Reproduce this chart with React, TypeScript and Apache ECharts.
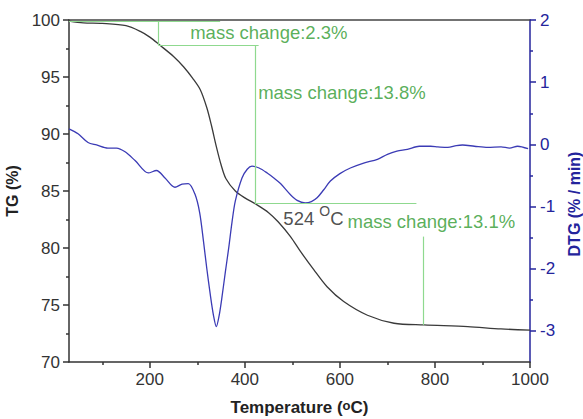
import React, { useEffect, useRef } from "react";
import * as echarts from "echarts";

// TG curve (temperature °C, mass %)
const tgTemp = [30, 60, 100, 150, 180, 200, 221, 250, 271, 290, 306, 320, 330, 340, 350, 360, 380, 400, 425, 450, 470, 496, 517, 545, 573, 608, 658, 714, 777, 869, 939, 1000];
const tgValue = [99.9, 99.75, 99.7, 99.5, 99.0, 98.5, 97.8, 96.8, 95.9, 94.9, 93.9, 92.3, 90.7, 88.9, 87.3, 86.1, 85.0, 84.4, 83.8, 83.1, 82.3, 81.0, 79.7, 78.1, 76.6, 75.3, 74.1, 73.4, 73.25, 73.1, 72.9, 72.8];

// DTG curve (temperature °C, %/min)
const dtgTemp = [30, 49, 70, 88, 112, 130, 148, 169, 197, 214, 232, 253, 268, 281, 295, 305, 313, 320, 327, 334, 340, 346, 352, 359, 366, 373, 380, 394, 405, 415, 430, 447, 461, 475, 496, 510, 527, 540, 552, 566, 580, 600, 622, 650, 679, 700, 720, 742, 767, 791, 806, 827, 845, 858, 883, 911, 939, 957, 974, 996];
const dtgValue = [0.25, 0.17, 0.03, -0.01, -0.06, -0.06, -0.12, -0.26, -0.46, -0.42, -0.54, -0.69, -0.64, -0.63, -0.8, -1.1, -1.56, -2.0, -2.4, -2.75, -2.93, -2.75, -2.45, -2.05, -1.67, -1.25, -0.91, -0.54, -0.4, -0.35, -0.38, -0.46, -0.54, -0.63, -0.81, -0.9, -0.94, -0.92, -0.86, -0.73, -0.59, -0.47, -0.38, -0.3, -0.24, -0.16, -0.11, -0.08, -0.03, -0.03, -0.04, -0.05, -0.02, -0.01, -0.03, -0.05, -0.04, -0.06, -0.03, -0.07];

// Axis ticks
const xMajor = [200, 400, 600, 800, 1000];
const xMinor = [100, 300, 500, 700, 900];
const dtgMajor = [-3, -2, -1, 0, 1, 2];
const dtgMinor = [-2.5, -1.5, -0.5, 0.5, 1.5];

// Annotation guide segments [[x1, tg1], [x2, tg2]]
const guideSegments = [
  [[30, 99.9], [348, 99.9]],
  [[218, 99.9], [218, 97.8]],
  [[218, 97.8], [429, 97.8]],
  [[421, 97.8], [421, 83.9]],
  [[421, 83.9], [761, 83.9]],
  [[776, 81.0], [776, 73.25]],
];

// Annotation texts [x, tg, text]
const annotations: [number, number, string][] = [
  [285, 98.86, "mass change:2.3%"],
  [428, 93.6, "mass change:13.8%"],
  [481, 82.6, "524 {sup|O}C"],
  [616, 82.3, "mass change:13.1%"],
];

const FONT = "'Liberation Sans', Arial, sans-serif";
const BLACK = "#333333";
const BLUE = "#24249c";
const GREEN = "#2f9a2f";

export default function App() {
  const ref = useRef<HTMLDivElement>(null);
  useEffect(() => {
    if (!ref.current) return;
    const chart = echarts.init(ref.current, null, { renderer: "svg" });
    const tgData = tgTemp.map((t, i) => [t, tgValue[i]]);
    const dtgData = dtgTemp.map((t, i) => [t, dtgValue[i]]);
    const option: any = {
      animation: false,
      textStyle: { fontFamily: FONT },
      grid: { left: 69, right: 53, top: 20, bottom: 57, containLabel: false, outerBoundsMode: "none" },
      xAxis: [
        {
          type: "value",
          min: 30,
          max: 1000,
          position: "bottom",
          axisLine: { onZero: false, lineStyle: { color: BLACK, width: 1.5 } },
          axisTick: { customValues: xMajor, length: 6, lineStyle: { color: BLACK, width: 1.5 } },
          axisLabel: {
            customValues: xMajor,
            fontSize: 17,
            color: BLACK,
            margin: 9,
            fontFamily: FONT,
            formatter: (v: number) => String(v),
          },
          splitLine: { show: false },
          name: "Temperature ({sup|o}C)",
          nameLocation: "middle",
          nameGap: 37,
          nameTextStyle: {
            fontSize: 17,
            fontWeight: "bold",
            color: "#222",
            fontFamily: FONT,
            rich: { sup: { fontSize: 13, fontWeight: "bold", color: "#222", verticalAlign: "top", fontFamily: FONT } },
          },
        },
        {
          type: "value",
          min: 30,
          max: 1000,
          position: "bottom",
          axisLine: { show: false, onZero: false },
          axisTick: { customValues: xMinor, length: 3, lineStyle: { color: BLACK, width: 1.5 } },
          axisLabel: { show: false },
          splitLine: { show: false },
        },
        {
          type: "value",
          min: 30,
          max: 1000,
          position: "top",
          axisLine: { onZero: false, lineStyle: { color: "#444", width: 1.5 } },
          axisTick: { show: false },
          axisLabel: { show: false },
          splitLine: { show: false },
        },
      ],
      yAxis: [
        {
          type: "value",
          min: 70,
          max: 100,
          interval: 5,
          position: "left",
          axisLine: { show: true, onZero: false, lineStyle: { color: BLACK, width: 1.5 } },
          axisTick: { show: true, length: 6, lineStyle: { color: BLACK, width: 1.5 } },
          minorTick: { show: true, splitNumber: 2, length: 3, lineStyle: { color: BLACK, width: 1.5 } },
          axisLabel: { fontSize: 17, color: BLACK, margin: 9, fontFamily: FONT },
          splitLine: { show: false },
          name: "TG (%)",
          nameLocation: "middle",
          nameGap: 48,
          nameRotate: 90,
          nameTextStyle: { fontSize: 16, fontWeight: "bold", color: "#222", fontFamily: FONT },
        },
        {
          type: "value",
          min: -3.5,
          max: 2,
          position: "right",
          axisLine: { show: true, onZero: false, lineStyle: { color: BLUE, width: 1.5 } },
          axisTick: { show: true, customValues: dtgMajor, length: 6, lineStyle: { color: BLUE, width: 1.5 } },
          axisLabel: { customValues: dtgMajor, fontSize: 17, color: BLUE, margin: 10, fontFamily: FONT },
          splitLine: { show: false },
          name: "DTG (% / min)",
          nameLocation: "middle",
          nameGap: 36,
          nameRotate: 90,
          nameTextStyle: {
            fontSize: 16,
            fontWeight: "bold",
            color: BLUE,
            fontFamily: FONT,
            padding: [0, 26, 0, 0],
          },
        },
        {
          type: "value",
          min: -3.5,
          max: 2,
          position: "right",
          axisLine: { show: false, onZero: false },
          axisTick: { show: true, customValues: dtgMinor, length: 3, lineStyle: { color: BLUE, width: 1.5 } },
          axisLabel: { show: false },
          splitLine: { show: false },
        },
      ],
      series: [
        {
          name: "TG",
          type: "line",
          xAxisIndex: 0,
          yAxisIndex: 0,
          data: tgData,
          showSymbol: false,
          smooth: 0.3,
          lineStyle: { color: "#3a3a3a", width: 1.3 },
          silent: true,
          z: 3,
          markLine: {
            silent: true,
            symbol: "none",
            label: { show: false },
            lineStyle: { color: "#8fd98f", width: 1.2, type: "solid" },
            data: guideSegments.map((s) => [{ coord: s[0] }, { coord: s[1] }]),
          },
        },
        {
          name: "DTG",
          type: "line",
          xAxisIndex: 0,
          yAxisIndex: 1,
          data: dtgData,
          showSymbol: false,
          smooth: 0.3,
          lineStyle: { color: "#3b3bb5", width: 1.3 },
          silent: true,
          z: 3,
        },
        {
          name: "notes",
          type: "scatter",
          xAxisIndex: 0,
          yAxisIndex: 0,
          symbolSize: 0,
          silent: true,
          z: 5,
          data: annotations.map((a, i) => ({
            value: [a[0], a[1]],
            label: {
              show: true,
              position: "right",
              distance: 0,
              formatter: a[2],
              fontSize: 18.5,
              fontFamily: FONT,
              color: i === 2 ? "#222" : GREEN,
              rich: {
                sup: { fontSize: 14, color: "#222", verticalAlign: "top", fontFamily: FONT, lineHeight: 28 },
              },
            },
          })),
        },
      ],
    };
    chart.setOption(option);
    return () => chart.dispose();
  }, []);
  return (
    <div
      ref={ref}
      style={{ position: "fixed", left: 0, top: 0, width: 583, height: 419, background: "#fff" }}
    />
  );
}
